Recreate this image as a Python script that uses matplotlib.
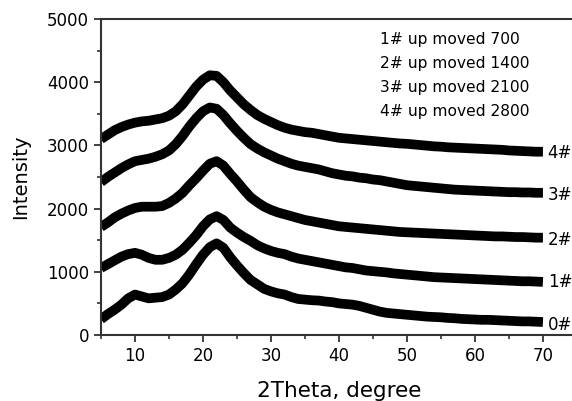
import numpy as np
import matplotlib.pyplot as plt

plt.rcParams['font.family'] = ['DejaVu Sans']

# 2Theta, degree (1 degree steps)
two_theta = np.arange(5, 71)

s0 = [250, 330, 400, 480, 580, 640, 610, 580, 590, 600, 640, 720, 820, 960, 1120, 1270,
      1390, 1450, 1380, 1230, 1100, 980, 870, 800, 730, 690, 660, 640, 600, 570, 560, 550,
      545, 530, 520, 500, 490, 480, 460, 430, 400, 370, 350, 340, 330, 320, 310, 300,
      290, 285, 280, 270, 265, 255, 250, 245, 240, 240, 235, 230, 225, 220, 215, 215, 210, 205]
s1 = [1060, 1120, 1180, 1240, 1280, 1300, 1270, 1220, 1190, 1190, 1220, 1270, 1350, 1460, 1580, 1720,
      1830, 1880, 1820, 1700, 1620, 1550, 1490, 1420, 1370, 1330, 1300, 1280, 1240, 1210, 1190, 1170,
      1150, 1130, 1110, 1090, 1070, 1060, 1040, 1020, 1010, 1000, 990, 975, 965, 955, 945, 935,
      925, 915, 910, 905, 900, 895, 890, 885, 880, 875, 870, 865, 860, 855, 850, 850, 845, 840]
s2 = [1710, 1780, 1860, 1920, 1970, 2010, 2030, 2030, 2030, 2040, 2090, 2160, 2250, 2370, 2480, 2600,
      2710, 2750, 2680, 2550, 2430, 2300, 2180, 2100, 2030, 1980, 1940, 1910, 1880, 1850, 1820, 1800,
      1780, 1760, 1740, 1720, 1710, 1700, 1690, 1680, 1670, 1660, 1650, 1640, 1630, 1625, 1620, 1615,
      1610, 1605, 1600, 1595, 1590, 1585, 1580, 1575, 1570, 1565, 1560, 1560, 1555, 1550, 1550, 1545, 1540, 1540]
s3 = [2420, 2500, 2570, 2640, 2700, 2750, 2770, 2790, 2820, 2860, 2920, 3020, 3150, 3300, 3430, 3540,
      3600, 3580, 3480, 3350, 3230, 3120, 3020, 2950, 2890, 2840, 2790, 2750, 2710, 2680, 2660, 2640,
      2620, 2590, 2560, 2540, 2520, 2510, 2490, 2480, 2460, 2450, 2430, 2410, 2390, 2370, 2360, 2350,
      2340, 2330, 2320, 2310, 2300, 2295, 2290, 2285, 2280, 2275, 2270, 2265, 2260, 2260, 2255, 2255, 2250, 2250]
s4 = [3100, 3170, 3240, 3290, 3330, 3360, 3380, 3390, 3410, 3430, 3470, 3540, 3650, 3790, 3930, 4040,
      4110, 4100, 4000, 3870, 3760, 3650, 3560, 3480, 3420, 3370, 3320, 3280, 3250, 3230, 3210, 3200,
      3180, 3160, 3140, 3120, 3110, 3100, 3090, 3080, 3070, 3060, 3050, 3040, 3030, 3025, 3015, 3005,
      2995, 2985, 2980, 2970, 2965, 2960, 2955, 2950, 2945, 2940, 2935, 2930, 2920, 2915, 2910, 2905, 2900, 2900]

series = [s0, s1, s2, s3, s4]
labels = ['0#', '1#', '2#', '3#', '4#']
label_y = [160, 840, 1500, 2215, 2880]
notes = ['1# up moved 700', '2# up moved 1400', '3# up moved 2100', '4# up moved 2800']
note_y = [4670, 4300, 3910, 3530]

fig = plt.figure(figsize=(5.72, 4.01), dpi=100)
ax = fig.add_axes([0.1766, 0.1646, 0.832, 0.788])

for s in series:
    ax.plot(two_theta, s, color='black', lw=7, solid_capstyle='butt')

for lab, yy in zip(labels, label_y):
    ax.text(70.7, yy, lab, fontsize=12, va='center', ha='left', clip_on=False)

for n, yy in zip(notes, note_y):
    ax.text(46, yy, n, fontsize=11.2, va='center', ha='left')

ax.set_xlim(5, 75)
ax.set_ylim(0, 5000)
ax.set_xticks([10, 20, 30, 40, 50, 60, 70])
ax.set_xticks(np.arange(5, 75, 5), minor=True)
ax.set_yticks([0, 1000, 2000, 3000, 4000, 5000])
ax.set_yticks(np.arange(0, 5001, 500), minor=True)
ax.tick_params(which='major', direction='out', length=5, width=1.3, labelsize=12, color='#333333')
ax.tick_params(which='minor', direction='out', length=3, width=1.2, color='#333333')
ax.spines['right'].set_visible(False)
for sp in ['left', 'bottom', 'top']:
    ax.spines[sp].set_linewidth(1.5)
    ax.spines[sp].set_color('#333333')

ax.set_xlabel('2Theta, degree', fontsize=15.5, labelpad=12)
ax.set_ylabel('Intensity', fontsize=14, labelpad=12)

fig.savefig('out.png', dpi=100)
